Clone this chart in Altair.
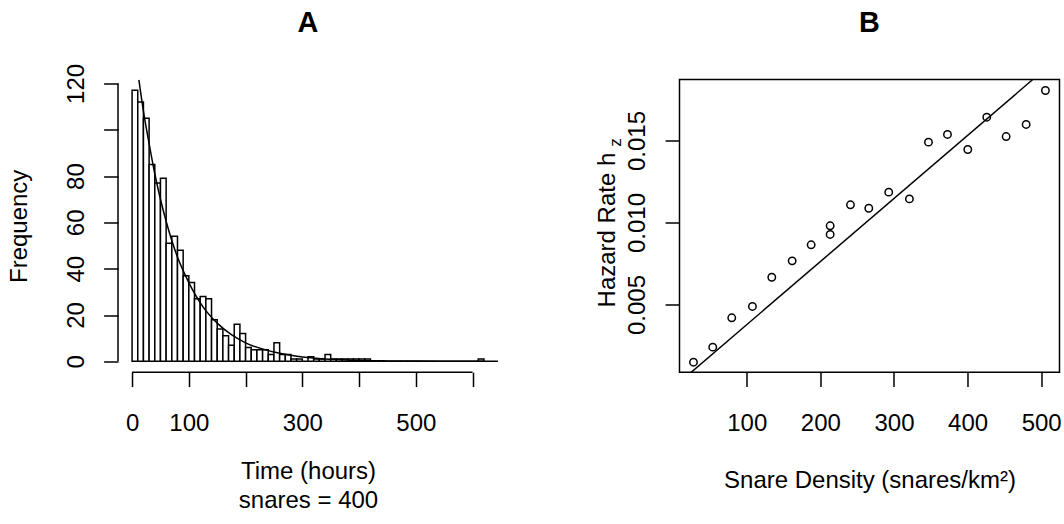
import altair as alt
import pandas as pd

FONT = "Liberation Sans"
FS = 24
LW = 1.5

# ---------------- Panel A data ----------------
bin_width = 10
bin_start = list(range(0, 620, 10))
counts = [117, 112, 105, 85, 77, 79, 51, 54, 48, 37,
          34, 27, 28, 27, 18, 14, 11, 7, 16, 12,
          6, 5, 5, 5, 3, 8, 3, 3, 1, 1,
          0, 2, 1, 1, 3, 1, 1, 1, 1, 1,
          1, 1, 0, 0, 0, 0, 0, 0, 0, 0,
          0, 0, 0, 0, 0, 0, 0, 0, 0, 0,
          0, 1]
curve_t = [12, 20, 30, 40, 50, 60, 80, 100, 125, 150, 175, 200, 250, 300, 350, 400, 450, 500, 560, 645]
curve_f = [121.5, 108, 94, 81, 70, 60.5, 45, 34, 23.5, 16.5, 11.5, 8, 4, 1.9, 0.9, 0.4, 0.2, 0.1, 0.05, 0.01]
a_xticks = [0, 100, 200, 300, 400, 500, 600]
a_xlabels_shown = [0, 100, 300, 500]
a_yticks = [0, 20, 40, 60, 80, 100, 120]
a_ylabels_shown = [0, 20, 40, 60, 80, 120]

# ---------------- Panel B data ----------------
density = [27.6, 53.8, 79.6, 107.7, 134, 161.7, 187.5, 213.3, 213.3, 240.9,
           265.8, 292.9, 321, 346.9, 372.7, 400.3, 426.1, 452.4, 479.6, 505.8]
hazard = [0.00148, 0.00240, 0.00419, 0.00488, 0.00666, 0.00766, 0.00864, 0.00927, 0.00980, 0.01108,
          0.01087, 0.01185, 0.01144, 0.01490, 0.01537, 0.01445, 0.01642, 0.01524, 0.01598, 0.01805]
fit_x = [22, 488.6]
fit_y = [0.00077, 0.01872]
b_xticks = [100, 200, 300, 400, 500]
b_yticks = [0.005, 0.010, 0.015]

W, H = 380, 292.7

hist_df = pd.DataFrame({"start": bin_start,
                        "end": [s + bin_width for s in bin_start],
                        "count": counts})
curve_df = pd.DataFrame({"t": curve_t, "f": curve_f})
pts_df = pd.DataFrame({"d": density, "h": hazard})
fit_df = pd.DataFrame({"d": fit_x, "h": fit_y})

ax_x_scale = alt.Scale(domain=[-24.8, 644.8], nice=False, zero=False)
ax_y_scale = alt.Scale(domain=[-4.68, 121.68], nice=False, zero=False)

shown_x = " || ".join(f"datum.value == {v}" for v in a_xlabels_shown)
shown_y = " || ".join(f"datum.value == {v}" for v in a_ylabels_shown)

a_xaxis = alt.Axis(values=a_xticks, labelExpr=f"({shown_x}) ? datum.label : ''",
                   domain=False, grid=False, ticks=True, tickSize=14.4, tickWidth=LW,
                   tickColor="black", labelFont=FONT, labelFontSize=FS, labelColor="black",
                   labelBaseline="alphabetic", labelPadding=43.9, labelFlush=False,
                   labelOverlap=False,
                   title=["Time (hours)", "snares = 400"], titleFont=FONT, titleFontSize=FS,
                   titleFontWeight="normal", titleColor="black", titleLineHeight=29,
                   titleBaseline="alphabetic", titleX=W / 2, titleY=106.8, titleAlign="center")
a_yaxis = alt.Axis(values=a_yticks, labelExpr=f"({shown_y}) ? datum.label : ''",
                   domain=False, grid=False, tickSize=14.4, tickWidth=LW, tickColor="black",
                   labelFont=FONT, labelFontSize=FS, labelColor="black", labelAngle=270,
                   labelAlign="center", labelBaseline="alphabetic", labelPadding=20.2,
                   labelFlush=False, labelOverlap=False,
                   title="Frequency", titleFont=FONT, titleFontSize=FS, titleFontWeight="normal",
                   titleColor="black", titleAngle=270, titleBaseline="alphabetic",
                   titleAlign="center", titleX=-92, titleY=H / 2)

bars = alt.Chart(hist_df).mark_rect(fill="white", stroke="black", strokeWidth=LW).encode(
    x=alt.X("start:Q", scale=ax_x_scale, axis=a_xaxis),
    x2="end:Q",
    y=alt.Y("count:Q", scale=ax_y_scale, axis=a_yaxis),
    y2=alt.datum(0),
)
curve = alt.Chart(curve_df).mark_line(color="black", strokeWidth=LW, clip=True,
                                      interpolate="monotone").encode(
    x="t:Q", y="f:Q")
xline = alt.Chart(pd.DataFrame({"a": [a_xticks[0]], "b": [a_xticks[-1]]})).mark_rule(
    color="black", strokeWidth=LW).encode(x="a:Q", x2="b:Q", y=alt.value(H))
yline = alt.Chart(pd.DataFrame({"a": [a_yticks[0]], "b": [a_yticks[-1]]})).mark_rule(
    color="black", strokeWidth=LW).encode(y="a:Q", y2="b:Q", x=alt.value(0))


def panel_title(label):
    return alt.Chart(pd.DataFrame({"t": [label]})).mark_text(
        font=FONT, fontSize=28.8, fontWeight="bold", color="black",
        align="center", baseline="alphabetic"
    ).encode(text="t:N", x=alt.value(W / 2), y=alt.value(-47.3))


panel_a = alt.layer(bars, curve, xline, yline, panel_title("A")).properties(
    width=W, height=H,
    view=alt.ViewBackground(stroke=None),
)

# ---------------- Panel B ----------------
bx_scale = alt.Scale(domain=[8.6, 524.9], nice=False, zero=False)
by_scale = alt.Scale(domain=[0.000872, 0.01872], nice=False, zero=False)

b_xaxis = alt.Axis(values=b_xticks, domain=False, grid=False, tickSize=14.4, tickWidth=LW,
                   tickColor="black", labelFont=FONT, labelFontSize=FS, labelColor="black",
                   labelBaseline="alphabetic", labelPadding=43.9, labelFlush=False,
                   labelOverlap=False,
                   title="Snare Density (snares/km²)", titleFont=FONT, titleFontSize=FS,
                   titleFontWeight="normal", titleColor="black", titleBaseline="alphabetic",
                   titleX=W / 2, titleY=115, titleAlign="center")
b_yaxis = alt.Axis(values=b_yticks, format=".3f", domain=False, grid=False, tickSize=14.4,
                   tickWidth=LW, tickColor="black", labelFont=FONT, labelFontSize=FS,
                   labelColor="black", labelAngle=270, labelAlign="center",
                   labelBaseline="alphabetic", labelPadding=20.2, labelFlush=False,
                   labelOverlap=False, title=None)

points = alt.Chart(pts_df).mark_point(shape="circle", filled=False, color="black",
                                      size=55, strokeWidth=LW, opacity=1).encode(
    x=alt.X("d:Q", scale=bx_scale, axis=b_xaxis),
    y=alt.Y("h:Q", scale=by_scale, axis=b_yaxis),
)
fit = alt.Chart(fit_df).mark_line(color="black", strokeWidth=LW, clip=True).encode(
    x="d:Q", y="h:Q")
ylab_main = alt.Chart(pd.DataFrame({"t": ["Hazard Rate h"]})).mark_text(
    font=FONT, fontSize=FS, color="black", angle=270, align="center", baseline="alphabetic"
).encode(text="t:N", x=alt.value(-64), y=alt.value(150.6))
ylab_sub = alt.Chart(pd.DataFrame({"t": ["z"]})).mark_text(
    font=FONT, fontSize=17, color="black", angle=270, align="center", baseline="alphabetic"
).encode(text="t:N", x=alt.value(-58.5), y=alt.value(63))

panel_b = alt.layer(points, fit, ylab_main, ylab_sub, panel_title("B")).properties(
    width=W, height=H,
    view=alt.ViewBackground(stroke="black", strokeWidth=LW),
)

chart = alt.hconcat(panel_a, panel_b, spacing=97.5).properties(
    padding={"left": 6, "top": 7.5, "right": 0, "bottom": 0},
    background="white",
).configure_view(stroke=None)

chart.save("out.html", embed_options={"renderer": "svg", "actions": False})
